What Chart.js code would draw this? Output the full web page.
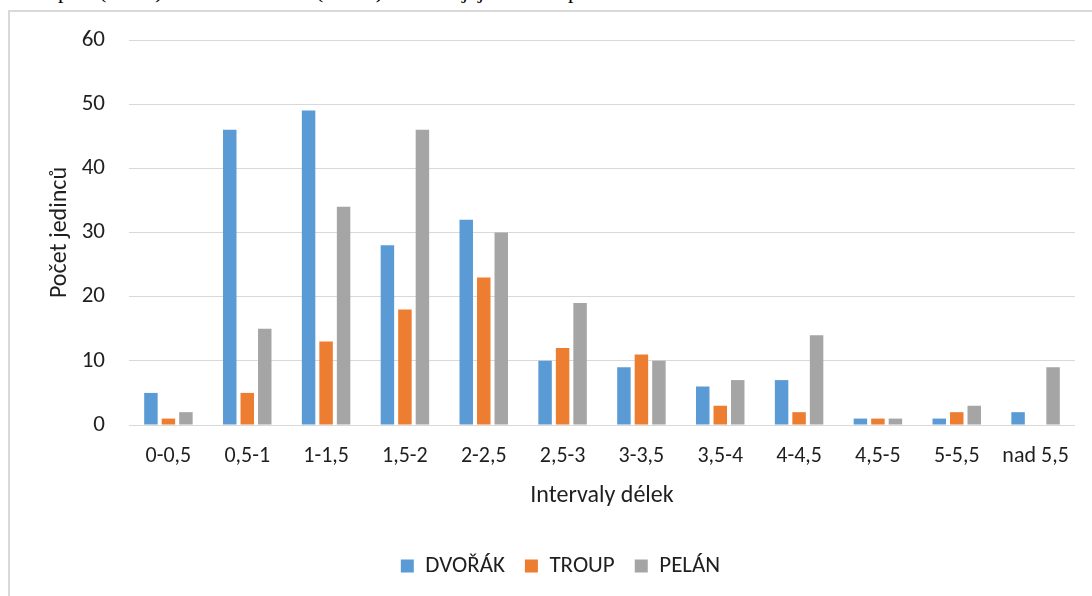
<!DOCTYPE html>
<html lang="cs">
<head>
<meta charset="utf-8">
<script src="https://cdn.jsdelivr.net/npm/chart.js@4.4.0/dist/chart.umd.min.js"></script>
<style>
  html, body { margin: 0; padding: 0; background: #fff; width: 1092px; height: 596px; overflow: hidden; }
  #caption { position: absolute; left: 0; top: -20px; height: 30px; width: 1092px;
             font-family: "Liberation Serif", "Times New Roman", serif; font-size: 22px; line-height: 1; color: #000; }
  #caption span { position: absolute; top: 0; white-space: nowrap; }
  #frame { position: absolute; left: 8px; top: 10px; width: 1200px; height: 700px;
           border-left: 2px solid #d9d9d9; border-top: 2px solid #d9d9d9; box-sizing: border-box; }
  #wrap { position: absolute; left: 0; top: 0; width: 1092px; height: 596px; }
</style>
</head>
<body>
<div id="caption">
  <span style="left:16px">Troup</span>
  <span style="left:99px">(Pelán)</span>
  <span style="left:190px">a Dvořák</span>
  <span style="left:316px">(Vlach)</span>
  <span style="left:396px">a Pelán</span>
  <span style="left:462px">jejich</span>
  <span style="left:568px">porovnání</span>
</div>
<div id="frame"></div>
<div id="wrap"><canvas id="chart" width="1092" height="596"></canvas></div>
<script>
// Length intervals and counts of individuals per author
const categories = ['0-0,5', '0,5-1', '1-1,5', '1,5-2', '2-2,5', '2,5-3', '3-3,5', '3,5-4', '4-4,5', '4,5-5', '5-5,5', 'nad 5,5'];
const dvorak = [5, 46, 49, 28, 32, 10, 9, 6, 7, 1, 1, 2];
const troup  = [1, 5, 13, 18, 23, 12, 11, 3, 2, 1, 2, 0];
const pelan  = [2, 15, 34, 46, 30, 19, 10, 7, 14, 1, 3, 9];
const seriesNames = ['DVOŘÁK', 'TROUP', 'PELÁN'];
const yTicks = [0, 10, 20, 30, 40, 50, 60];

const FONT = "Carlito, Lato, 'Open Sans', sans-serif";
const TEXT = '#1f1f1f';

const ds = (label, data, color) => ({
  label, data,
  backgroundColor: color,
  borderWidth: 0,
  categoryPercentage: 0.666,
  barPercentage: 0.77
});

// Center the legend under the whole frame rather than the plot box
const legendShift = {
  id: 'legendShift',
  afterLayout(chart) {
    const lg = chart.legend;
    if (lg) { lg.left += 23; lg.right += 23; }
  }
};

new Chart(document.getElementById('chart'), {
  type: 'bar',
  data: {
    labels: categories,
    datasets: [
      ds(seriesNames[0], dvorak, '#5B9BD5'),
      ds(seriesNames[1], troup, '#ED7D31'),
      ds(seriesNames[2], pelan, '#A5A5A5')
    ]
  },
  plugins: [legendShift],
  options: {
    responsive: false,
    animation: false,
    layout: { padding: { left: 0, right: 17, top: 40, bottom: 8.5 } },
    plugins: {
      tooltip: { enabled: false },
      legend: {
        position: 'bottom',
        labels: {
          font: { family: FONT, size: 23 },
          color: TEXT,
          boxWidth: 13,
          boxHeight: 13,
          padding: 20
        }
      }
    },
    scales: {
      x: {
        grid: { display: false, drawTicks: false },
        border: { display: false },
        ticks: { font: { family: FONT, size: 22 }, color: TEXT, padding: 18, maxRotation: 0, autoSkip: false },
        title: { display: true, text: 'Intervaly délek', font: { family: FONT, size: 24 }, color: TEXT,
                 padding: { top: 10, bottom: 24.5 } },
        afterFit: s => { s.height = 109.5; }
      },
      y: {
        min: 0, max: 60,
        afterBuildTicks: s => { s.ticks = yTicks.map(v => ({ value: v })); },
        grid: { color: '#d9d9d9', lineWidth: 1, drawTicks: false },
        border: { display: false },
        ticks: { font: { family: FONT, size: 23 }, color: TEXT, padding: 24 },
        title: { display: true, text: 'Počet jedinců', font: { family: FONT, size: 24 }, color: TEXT,
                 padding: { top: 46, bottom: 0 } },
        afterFit: s => { s.width = 129; }
      }
    }
  }
});
</script>
</body>
</html>
